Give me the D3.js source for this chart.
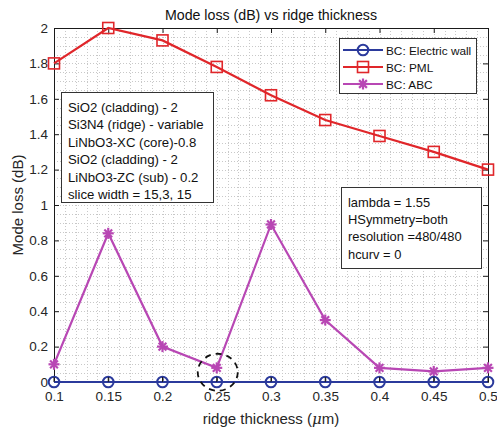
<!DOCTYPE html>
<html>
<head>
<meta charset="utf-8">
<script src="https://cdn.jsdelivr.net/npm/d3@7/dist/d3.min.js"></script>
<style>
  html, body { margin: 0; padding: 0; background: #fff; }
  svg { display: block; font-family: "Liberation Sans", Arial, Helvetica, sans-serif; }
</style>
</head>
<body>
<svg id="chart" width="497" height="430"></svg>
<script>
// Ridge thickness sweep (µm)
const thickness = [0.1, 0.15, 0.2, 0.25, 0.3, 0.35, 0.4, 0.45, 0.5];
// Mode loss (dB) per boundary condition
const lossElectricWall = [0, 0, 0, 0, 0, 0, 0, 0, 0];
const lossPML = [1.80, 2.00, 1.93, 1.78, 1.62, 1.48, 1.39, 1.30, 1.20];
const lossABC = [0.10, 0.84, 0.20, 0.08, 0.89, 0.35, 0.08, 0.06, 0.08];

const seriesNames = ["BC: Electric wall", "BC: PML", "BC: ABC"];
const xTicks = [0.1, 0.15, 0.2, 0.25, 0.3, 0.35, 0.4, 0.45, 0.5];
const yTicks = [0, 0.2, 0.4, 0.6, 0.8, 1, 1.2, 1.4, 1.6, 1.8, 2];

const structureNotes = [
  "SiO2 (cladding) - 2",
  "Si3N4 (ridge) - variable",
  "LiNbO3-XC (core)-0.8",
  "SiO2 (cladding) - 2",
  "LiNbO3-ZC (sub) - 0.2",
  "slice width = 15,3, 15"
];
const solverNotes = [
  "lambda = 1.55",
  "HSymmetry=both",
  "resolution =480/480",
  "hcurv = 0"
];

const svg = d3.select("#chart");
const plotLeft = 54, plotRight = 488, plotTop = 28, plotBottom = 382;

const x = d3.scaleLinear().domain([0.1, 0.5]).range([plotLeft, plotRight]);
const y = d3.scaleLinear().domain([0, 2]).range([plotBottom, plotTop]);

const textColor = "#262626";

// Minor grid (dotted)
const grid = svg.append("g").attr("stroke", "#c8c8c8").attr("stroke-width", 1)
  .attr("stroke-dasharray", "1,2");
d3.range(0.1, 0.5001, 0.01).forEach(v => {
  grid.append("line").attr("x1", Math.round(x(v)) + 0.5).attr("x2", Math.round(x(v)) + 0.5)
    .attr("y1", plotTop).attr("y2", plotBottom);
});
d3.range(0, 2.0001, 0.05).forEach(v => {
  grid.append("line").attr("y1", Math.round(y(v)) + 0.5).attr("y2", Math.round(y(v)) + 0.5)
    .attr("x1", plotLeft).attr("x2", plotRight);
});

// Axes with inward ticks
const xAxis = d3.axisBottom(x).tickValues(xTicks).tickFormat(d => String(+d.toFixed(2)))
  .tickSizeInner(-5).tickSizeOuter(0).tickPadding(9);
const yAxis = d3.axisLeft(y).tickValues(yTicks).tickFormat(d => String(+d.toFixed(1)))
  .tickSizeInner(-5).tickSizeOuter(0).tickPadding(6);

const gx = svg.append("g").attr("transform", `translate(0,${plotBottom})`).call(xAxis);
const gy = svg.append("g").attr("transform", `translate(${plotLeft},0)`).call(yAxis);
const gxTop = svg.append("g").attr("transform", `translate(0,${plotTop})`)
  .call(d3.axisTop(x).tickValues(xTicks).tickSizeInner(-5).tickSizeOuter(0).tickFormat(""));
const gyRight = svg.append("g").attr("transform", `translate(${plotRight},0)`)
  .call(d3.axisRight(y).tickValues(yTicks).tickSizeInner(-5).tickSizeOuter(0).tickFormat(""));

[gx, gy, gxTop, gyRight].forEach(g => {
  g.select(".domain").attr("stroke", "#1a1a1a").attr("stroke-width", 1);
  g.selectAll(".tick line").attr("stroke", "#1a1a1a");
  g.selectAll(".tick text").attr("fill", textColor).attr("font-size", 13.5)
    .attr("font-family", "'Liberation Sans', Arial, sans-serif");
});

// Title and axis labels
svg.append("text").attr("x", (plotLeft + plotRight) / 2).attr("y", 20).attr("text-anchor", "middle")
  .attr("font-size", 14.2).attr("fill", "#111").text("Mode loss (dB) vs ridge thickness");
const xl = svg.append("text").attr("x", (plotLeft + plotRight) / 2).attr("y", 424).attr("text-anchor", "middle")
  .attr("font-size", 15).attr("fill", textColor);
xl.append("tspan").text("ridge thickness (");
xl.append("tspan").attr("font-style", "italic").attr("font-family", "'DejaVu Serif', serif").text("μ");
xl.append("tspan").text("m)");
svg.append("text").attr("transform", `translate(23,${(plotTop + plotBottom) / 2}) rotate(-90)`)
  .attr("text-anchor", "middle").attr("font-size", 15).attr("fill", textColor).text("Mode loss (dB)");

// Note boxes
function noteBox(x0, y0, w, h, lines, firstBaseline, step, fontSize) {
  const g = svg.append("g");
  g.append("rect").attr("x", x0 + 0.5).attr("y", y0 + 0.5).attr("width", w).attr("height", h)
    .attr("fill", "#fff").attr("stroke", "#333").attr("stroke-width", 1);
  lines.forEach((t, i) => {
    g.append("text").attr("x", x0 + 7).attr("y", y0 + firstBaseline + i * step)
      .attr("font-size", fontSize).attr("fill", "#111").text(t);
  });
}
noteBox(61, 92, 152, 110, structureNotes, 20, 17.4, 13.2);
noteBox(341, 187, 140, 81, solverNotes, 20, 17.2, 12.9);

// Series
const colors = ["#2b3a9c", "#e0262a", "#b847b4"];
const seriesValues = [lossElectricWall, lossPML, lossABC];
const line = d3.line().x(d => x(d[0])).y(d => y(d[1]));

const asterisk = (g, cx, cy, r, color) => {
  [0, 45, 90, 135].forEach(a => {
    const rad = a * Math.PI / 180;
    g.append("line")
      .attr("x1", cx - r * Math.cos(rad)).attr("y1", cy - r * Math.sin(rad))
      .attr("x2", cx + r * Math.cos(rad)).attr("y2", cy + r * Math.sin(rad))
      .attr("stroke", color).attr("stroke-width", 2.2);
  });
};

function drawMarker(g, kind, cx, cy, color) {
  if (kind === 0) {
    g.append("circle").attr("cx", cx).attr("cy", cy).attr("r", 5.3)
      .attr("fill", "none").attr("stroke", color).attr("stroke-width", 2);
  } else if (kind === 1) {
    g.append("rect").attr("x", cx - 5.5).attr("y", cy - 5.5).attr("width", 11).attr("height", 11)
      .attr("fill", "none").attr("stroke", color).attr("stroke-width", 1.6);
  } else {
    asterisk(g, cx, cy, 5.5, color);
  }
}

// Draw in reverse order so the electric-wall line sits on top of the axis
[2, 1, 0].forEach(k => {
  const pts = thickness.map((t, i) => [t, seriesValues[k][i]]);
  const g = svg.append("g");
  g.append("path").attr("d", line(pts)).attr("fill", "none")
    .attr("stroke", colors[k]).attr("stroke-width", 2.2);
  pts.forEach(p => drawMarker(g, k, x(p[0]), y(p[1]), colors[k]));
});

// Bottom tick marks drawn over the series (visible inside the circles)
xTicks.forEach(v => {
  svg.append("line").attr("x1", x(v)).attr("x2", x(v)).attr("y1", plotBottom).attr("y2", plotBottom - 5)
    .attr("stroke", "#1a1a1a").attr("stroke-width", 1);
});

// Dashed highlight around the 0.25 µm ABC point
svg.append("ellipse").attr("cx", x(0.25) + 1).attr("cy", y(0.055))
  .attr("rx", 20).attr("ry", 18.5)
  .attr("fill", "none").attr("stroke", "#111").attr("stroke-width", 1.8)
  .attr("stroke-dasharray", "6,5");

// Legend
const lg = svg.append("g");
lg.append("rect").attr("x", 339.5).attr("y", 38.5).attr("width", 137).attr("height", 55)
  .attr("fill", "#fff").attr("stroke", "#333");
seriesNames.forEach((name, k) => {
  const yy = 50 + k * 17;
  lg.append("line").attr("x1", 343).attr("x2", 383).attr("y1", yy).attr("y2", yy)
    .attr("stroke", colors[k]).attr("stroke-width", 2.2);
  drawMarker(lg, k, 363, yy, colors[k]);
  lg.append("text").attr("x", 386).attr("y", yy + 4.5).attr("font-size", 11.8)
    .attr("fill", "#111").text(name);
});
</script>
</body>
</html>
